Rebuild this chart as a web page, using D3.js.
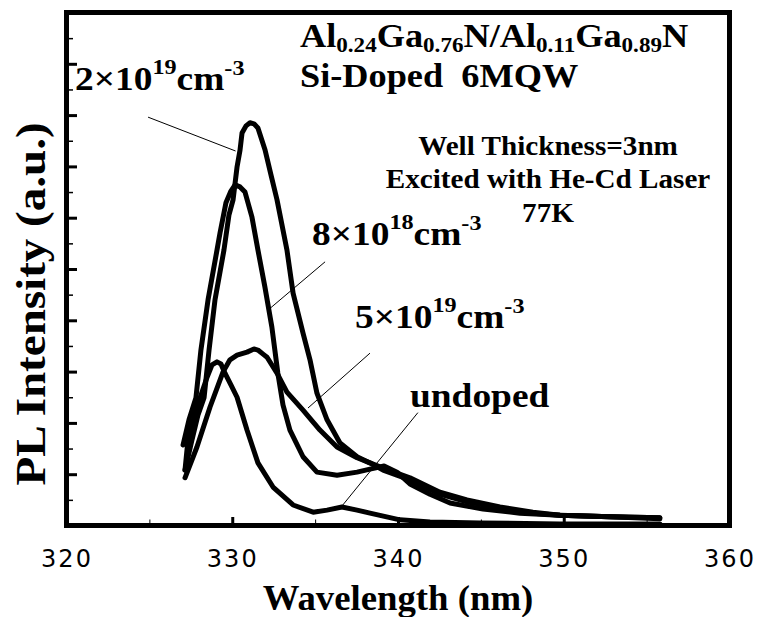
<!DOCTYPE html>
<html><head><meta charset="utf-8">
<script src="https://cdn.jsdelivr.net/npm/d3@7"></script>
<style>
body{margin:0;background:#fff}
svg{display:block}
text{font-family:"Liberation Serif","Times New Roman",serif;font-weight:bold;fill:#000}
.xlab text{font-family:"DejaVu Sans",Verdana,sans-serif;font-weight:normal;font-size:24px;letter-spacing:2px}
</style></head><body>
<svg id="svg" width="757" height="617"></svg>
<script>
// PL spectra (wavelength nm / intensity a.u.)
const wl2e19 = [327.15,327.57,327.93,328.30,328.60,328.96,329.50,329.80,330.05,330.29,330.47,330.59,330.83,331.07,331.31,331.55,331.98,332.34,332.70,333.30,333.67,334.27,334.69,335.11,335.72,336.50,337.53,338.31,339.10,340.72,342.53,344.16,346.15,348.14,349.77,352.79,355.8];
const pl2e19 = [1.08,1.67,2.15,2.49,3.42,4.40,5.37,6.05,6.35,6.99,7.32,7.65,7.79,7.85,7.83,7.75,7.32,6.83,6.35,5.37,4.53,3.75,3.23,2.58,2.06,1.61,1.34,1.22,1.12,0.93,0.65,0.50,0.36,0.26,0.20,0.17,0.15];

const wl8e18 = [327.03,327.39,327.81,328.11,328.54,329.08,329.26,329.62,329.92,330.17,330.47,330.77,331.19,331.55,331.97,332.39,332.75,333.06,333.48,334.27,335.11,336.32,337.53,338.31,339.16,339.94,340.72,341.93,343.14,345.13,347.36,349.77,352.79,355.8];
const pl8e18 = [1.57,2.06,2.49,3.42,4.40,5.37,5.70,6.29,6.52,6.64,6.60,6.50,6.01,5.37,4.65,3.87,2.97,2.35,1.86,1.34,1.04,0.98,1.04,1.10,1.16,1.04,0.81,0.61,0.44,0.32,0.24,0.20,0.17,0.15];

const wl5e19 = [327.15,327.87,328.66,329.44,329.86,330.29,330.89,331.31,331.55,331.86,332.10,332.70,333.30,334.27,335.29,336.32,337.53,338.31,339.10,340.72,342.53,344.16,346.15,348.14,349.77,352.79,355.8];
const pl5e19 = [0.93,1.53,2.31,2.99,3.23,3.32,3.38,3.44,3.42,3.34,3.28,2.97,2.60,2.25,1.86,1.53,1.32,1.22,1.08,0.89,0.61,0.46,0.34,0.24,0.20,0.17,0.13];

const wlUnd = [327.15,327.33,327.87,328.48,328.78,329.08,329.32,329.56,329.92,330.29,330.89,331.55,332.46,333.67,334.88,335.72,336.62,337.53,338.31,340.12,341.93,344.95,349.77,355.8];
const plUnd = [1.08,1.67,2.31,2.89,3.13,3.19,3.15,2.97,2.74,2.50,1.86,1.22,0.75,0.40,0.26,0.30,0.36,0.30,0.24,0.11,0.07,0.05,0.03,0.03];

const xTicks = [320,330,340,350,360];
const xMinor = [325,335,345,355];

const svg = d3.select('#svg');
const x = d3.scaleLinear().domain([320,360]).range([66.5,729.5]);
const y = d3.scaleLinear().domain([0,10]).range([525.5,12.5]);

// ticks point inward
const gxMin = svg.append('g').attr('transform','translate(0,525.5)')
  .call(d3.axisBottom(x).tickValues(xMinor).tickSize(-6).tickFormat(''));
gxMin.selectAll('line').attr('stroke-width',1);
const gx = svg.append('g').attr('class','xlab').attr('transform','translate(0,525.5)')
  .call(d3.axisBottom(x).tickValues(xTicks).tickSize(-8.5).tickPadding(24).tickFormat(d3.format('d')));
gx.selectAll('line').attr('stroke-width',3);
const gyMin = svg.append('g').attr('transform','translate(66.5,0)')
  .call(d3.axisLeft(y).tickValues(d3.range(0.5,10,1)).tickSize(-6.5).tickFormat(''));
gyMin.selectAll('line').attr('stroke-width',1.5);
const gy = svg.append('g').attr('transform','translate(66.5,0)')
  .call(d3.axisLeft(y).tickValues(d3.range(0,11,1)).tickSize(-10.5).tickFormat(''));
gy.selectAll('line').attr('stroke-width',3);
svg.selectAll('.domain').remove();
gx.selectAll('text').attr('fill','#000');

// spectra
const line = d3.line().x(d => x(d[0])).y(d => y(d[1]));
[[wl2e19,pl2e19],[wl8e18,pl8e18],[wl5e19,pl5e19],[wlUnd,plUnd]].forEach(([w,p]) => {
  svg.append('path').datum(d3.zip(w,p)).attr('d',line)
    .attr('fill','none').attr('stroke','#000').attr('stroke-width',5)
    .attr('stroke-linejoin','round').attr('stroke-linecap','round');
});

svg.append('rect').attr('x',66.5).attr('y',12.5).attr('width',663).attr('height',513)
  .attr('fill','none').attr('stroke','#000').attr('stroke-width',5);

// leader lines
[[[324.92,7.96],[330.2,7.3]],
 [[335.6,5.14],[332.16,4.2]],
 [[338.31,3.36],[334.57,2.29]],
 [[341.2,2.2],[336.62,0.38]]].forEach(([a,b]) => {
  svg.append('line').attr('x1',x(a[0])).attr('y1',y(a[1])).attr('x2',x(b[0])).attr('y2',y(b[1]))
    .attr('stroke','#000').attr('stroke-width',1);
});

// rich text: parts are [string, shift]; shift in px (negative = up)
function label(px, py, parts, size, small, anchor) {
  const t = svg.append('text').attr('transform',`translate(${px},${py}) scale(1.1,1)`)
    .attr('text-anchor',anchor || 'start').style('font-size',size+'px').style('white-space','pre');
  let cur = 0;
  parts.forEach(([s, shift]) => {
    t.append('tspan').attr('dy',shift - cur).style('font-size',(shift ? small : size)+'px').text(s);
    cur = shift;
  });
}

label(300,47,[['Al',0],['0.24',5],['Ga',0],['0.76',5],['N/Al',0],['0.11',5],['Ga',0],['0.89',5],['N',0]],33,21);
label(300,87,[['Si-Doped  6MQW',0]],33,21);
label(548,155,[['Well Thickness=3nm',0]],26.5,18,'middle');
label(548,188,[['Excited with He-Cd Laser',0]],26.5,18,'middle');
label(548,222,[['77K',0]],26.5,18,'middle');

const conc = (m,e) => [[m+'\u00d710',0],[e,-16],['cm',0],['-3',-15]];
label(75,90,conc('2','19'),34,22);
label(312,245,conc('8','18'),34,22);
label(355,328,conc('5','19'),34,22);
label(410,407,[['undoped',0]],34,22);

svg.append('text').attr('transform','translate(398,610) scale(1.05,1)').attr('text-anchor','middle')
  .style('font-size','35px').text('Wavelength (nm)');
svg.append('text').attr('transform','translate(45,304) rotate(-90) scale(1.12,1)').attr('text-anchor','middle')
  .style('font-size','42px').text('PL Intensity (a.u.)');
</script>
</body></html>
